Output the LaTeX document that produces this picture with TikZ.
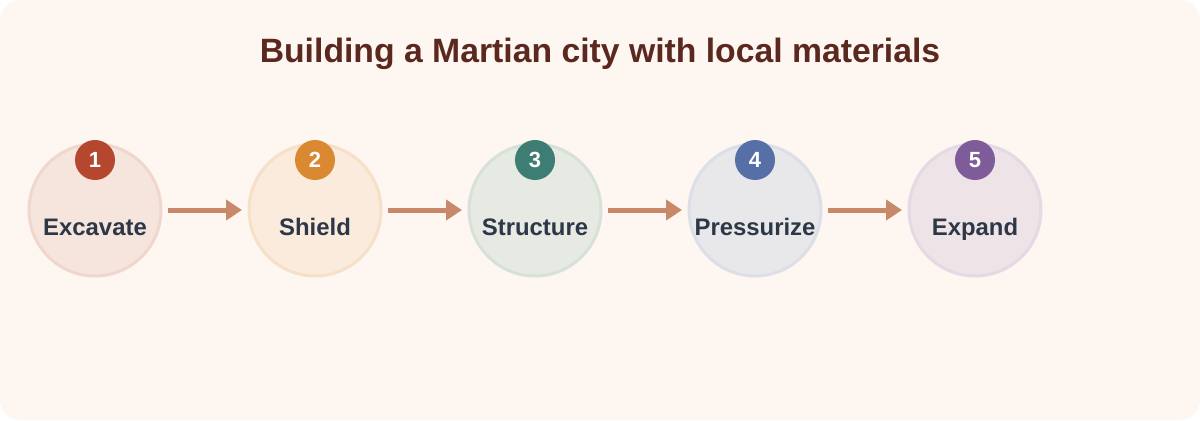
\documentclass[tikz,border=0pt]{standalone}
\usepackage{fontspec}
\setmainfont{Liberation Sans}
\usetikzlibrary{arrows.meta,positioning}
\definecolor{pagebg}{RGB}{254,246,241}
\definecolor{titlebrown}{RGB}{90,40,30}
\definecolor{labelnavy}{RGB}{45,55,72}
\definecolor{arrowtan}{RGB}{200,137,106}
\definecolor{rust}{RGB}{181,71,46}
\definecolor{rusttint}{RGB}{245,229,221}
\definecolor{rustedge}{RGB}{240,215,205}
\definecolor{amber}{RGB}{219,136,51}
\definecolor{ambertint}{RGB}{250,235,220}
\definecolor{amberedge}{RGB}{247,224,200}
\definecolor{teal}{RGB}{62,125,115}
\definecolor{tealtint}{RGB}{230,234,227}
\definecolor{tealedge}{RGB}{215,225,218}
\definecolor{slateblue}{RGB}{86,111,166}
\definecolor{slatebluetint}{RGB}{232,232,234}
\definecolor{slateblueedge}{RGB}{220,223,232}
\definecolor{plum}{RGB}{126,92,154}
\definecolor{plumtint}{RGB}{238,227,230}
\definecolor{plumedge}{RGB}{228,217,228}

\begin{document}
\begin{tikzpicture}[x=0.02cm, y=-0.02cm,
    stage/.style={circle, line width=0.06cm, minimum size=2.64cm, inner sep=0pt},
    badge/.style={circle, minimum size=0.8cm, inner sep=0pt},
    badgenum/.style={anchor=base, text=white, font=\fontsize{12.5}{14}\selectfont\bfseries},
    stagename/.style={anchor=base, text=labelnavy, font=\fontsize{13.6}{16}\selectfont\bfseries},
    flow/.style={draw=arrowtan, line width=0.1cm, -{Triangle[length=0.32cm, width=0.4cm]},
        shorten <=0.11cm, shorten >=0.11cm}]
    % background
    \fill[pagebg, rounded corners=0.4cm] (0,0) rectangle (1200,420);
    \useasboundingbox (0,0) rectangle (1200,420);
    \node[anchor=base, text=titlebrown, font=\fontsize{19.2}{23}\selectfont\bfseries] (title) at (600,62)
        {Building a Martian city with local materials};

    % stages
    \node[stage, draw=rustedge, fill=rusttint] (excavate) at (95,210) {};
    \node[stage, draw=amberedge, fill=ambertint] (shield) at (315,210) {};
    \node[stage, draw=tealedge, fill=tealtint] (structure) at (535,210) {};
    \node[stage, draw=slateblueedge, fill=slatebluetint] (pressurize) at (755,210) {};
    \node[stage, draw=plumedge, fill=plumtint] (expand) at (975,210) {};

    \node[stagename] (excavatename) at (95,235) {Excavate};
    \node[stagename] (shieldname) at (315,235) {Shield};
    \node[stagename] (structurename) at (535,235) {Structure};
    \node[stagename] (pressurizename) at (755,235) {Pressurize};
    \node[stagename] (expandname) at (975,235) {Expand};

    % numbered badges
    \node[badge, fill=rust] (badge1) at (95,160) {};
    \node[badge, fill=amber] (badge2) at (315,160) {};
    \node[badge, fill=teal] (badge3) at (535,160) {};
    \node[badge, fill=slateblue] (badge4) at (755,160) {};
    \node[badge, fill=plum] (badge5) at (975,160) {};
    \node[badgenum] at (95,167.5) {1};
    \node[badgenum] at (315,167.5) {2};
    \node[badgenum] at (535,167.5) {3};
    \node[badgenum] at (755,167.5) {4};
    \node[badgenum] at (975,167.5) {5};

    % arrows
    \draw[flow] (excavate) -- (shield);
    \draw[flow] (shield) -- (structure);
    \draw[flow] (structure) -- (pressurize);
    \draw[flow] (pressurize) -- (expand);
\end{tikzpicture}
\end{document}
